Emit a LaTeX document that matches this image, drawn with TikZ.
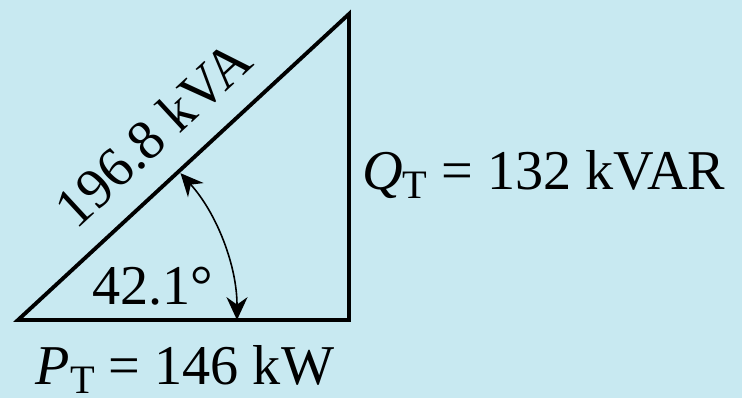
\documentclass[tikz,border=0pt]{standalone}
\usepackage{fontspec}
\setmainfont{Liberation Serif}
\usepackage{xcolor}
\usepackage{tikz}
\usetikzlibrary{arrows.meta}
\definecolor{panelblue}{RGB}{200,233,241}
\tikzstyle{side}     = [draw=black, line width=2.2pt, line join=miter]
\tikzstyle{lbl}      = [inner sep=0pt, font=\fontsize{32}{36}\selectfont]
\tikzstyle{angarrow} = [{Stealth[length=13pt, width=12pt]}-{Stealth[length=13pt, width=12pt]},
                        line width=0.9pt]
\newcommand{\lowsub}[1]{\raisebox{-0.16em}{\fontsize{23}{23}\selectfont #1}}

\begin{document}
\begin{tikzpicture}[x=0.02cm, y=0.02cm]

  % Background
  \fill[panelblue] (0,0) rectangle (742,398);
  \useasboundingbox (0,0) rectangle (742,398);

  % Vertices
  \coordinate (A) at (18,78);
  \coordinate (B) at (349,78);
  \coordinate (C) at (349,384);
  \coordinate (arcstart) at (237,78);

  % Triangle
  \draw[side] (A) -- (B) -- (C) -- cycle;
  \path (A) -- node[lbl, pos=0.5, sloped, above=0.5cm] (hyp) {196.8 kVA} (C);

  % Labels
  \node[lbl, anchor=base] (pt) at (185,13) {\textit{P}\lowsub{T} = 146 kW};
  \node[lbl, anchor=base west] (qt) at (362,208) {\textit{Q}\lowsub{T} = 132 kVAR};
  \node[lbl, anchor=base] (ang) at (153,93) {42.1°};

  % Angle
  \draw[angarrow] (arcstart) arc[start angle=0, end angle=42.1, radius=219];
\end{tikzpicture}
\end{document}
